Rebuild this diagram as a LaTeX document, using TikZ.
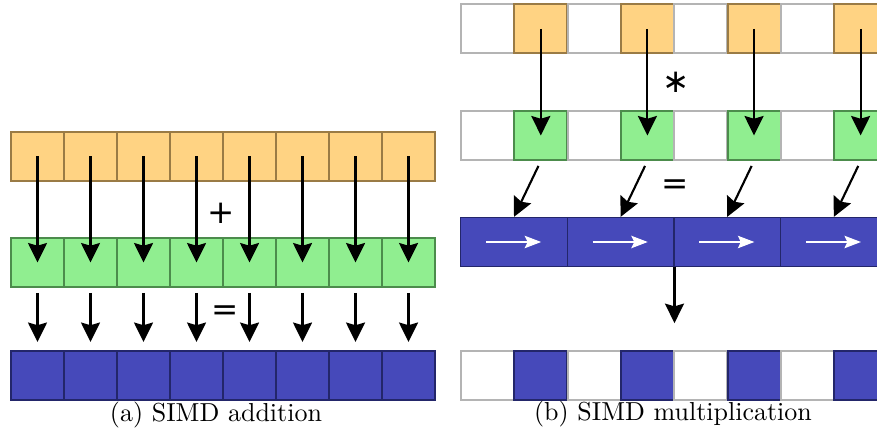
\documentclass[tikz,border=0pt]{standalone}
\usepackage{fontspec}
\newfontfamily\opfont{DejaVu Sans}
\usetikzlibrary{arrows.meta,calc}
\definecolor{cellorange}{HTML}{FFD383}
\definecolor{edgeorange}{HTML}{9A7B45}
\definecolor{cellgreen}{HTML}{90EE90}
\definecolor{edgegreen}{HTML}{4C8C4C}
\definecolor{cellblue}{HTML}{4649BA}
\definecolor{edgeblue}{HTML}{23266A}
\definecolor{edgegrey}{HTML}{B4B4B4}
\tikzset{
  cell/.style={rectangle, inner sep=0pt, minimum width=21.2pt, minimum height=19.6pt, line width=0.8pt},
  ocell/.style={cell, fill=cellorange, draw=edgeorange},
  gcell/.style={cell, fill=cellgreen, draw=edgegreen},
  bcell/.style={cell, fill=cellblue, draw=edgeblue},
  wcell/.style={cell, fill=white, draw=edgegrey},
  wide/.style={cell, fill=cellblue, draw=edgeblue, line width=0.5pt, minimum width=42.6pt},
  flow/.style={line width=0.85pt, -{Stealth[length=7.8pt, width=7.6pt, inset=1.1pt]}},
  lane/.style={white, line width=0.45pt, -{Stealth[length=6.6pt, width=5pt, inset=1.2pt]}},
  op/.style={inner sep=0pt, font=\fontsize{13}{15}\selectfont\opfont},
  caption/.style={inner sep=0pt, font=\fontsize{10.4}{12}\selectfont}
}
\begin{document}
\begin{tikzpicture}[x=0.4pt, y=-0.4pt]
\useasboundingbox (0,0) rectangle (877,438);

% ---- (a) element-wise addition ----
\foreach \i in {0,...,7} {
  \node[ocell] (a\i) at ({37.5+53*\i},156.5) {};
  \node[gcell] (b\i) at ({37.5+53*\i},262.5) {};
  \node[bcell] (c\i) at ({37.5+53*\i},375) {};
}
\foreach \i in {0,...,7} {
  \draw[flow] (a\i.center) -- (b\i.center);
  \draw[flow, shorten <=1.9pt, shorten >=3pt] (b\i.south) -- (c\i.north);
}
\node[op] (plus) at (221,213) {+};
\node[op] (eqa) at (225,313) {=};
\node[caption] (capa) at (216,415) {(a) SIMD addition};

% ---- (b) widening multiplication ----
\begin{scope}
\clip (455,0) rectangle (877,438);
\foreach \i in {0,...,7} {
  \pgfmathtruncatemacro{\odd}{mod(\i,2)}
  \ifnum\odd=1
    \node[ocell] (p\i) at ({487.5+53.3*\i},29) {};
    \node[gcell] (q\i) at ({487.5+53.3*\i},135.5) {};
    \node[bcell] (r\i) at ({487.5+53.3*\i},375) {};
  \else
    \node[wcell] (p\i) at ({487.5+53.3*\i},29) {};
    \node[wcell] (q\i) at ({487.5+53.3*\i},135.5) {};
    \node[wcell] (r\i) at ({487.5+53.3*\i},375) {};
  \fi
}
\foreach \k in {0,...,3} {
  \node[wide] (w\k) at ({514+106.6*\k},242) {};
  \coordinate (ws\k) at ($(w\k.west)+(26,0)$);
  \coordinate (we\k) at ($(w\k.west)+(81,0)$);
  \draw[lane] (ws\k) -- (we\k);
}
\foreach \k/\i in {0/1,1/3,2/5,3/7} {
  \draw[flow] (p\i.center) -- (q\i.center);
  \draw[flow, shorten <=2.2pt] (q\i.south) -- (w\k.north);
}
\coordinate (tipout) at ($(w1.south east)+(0,56)$);
\draw[flow] (w1.south east) -- (tipout);
\end{scope}
\node[op] (star) at (676,82) {∗};
\node[op] (eqb) at (675,187) {=};
\node[caption] (capb) at (673,414) {(b) SIMD multiplication};
\end{tikzpicture}
\end{document}
